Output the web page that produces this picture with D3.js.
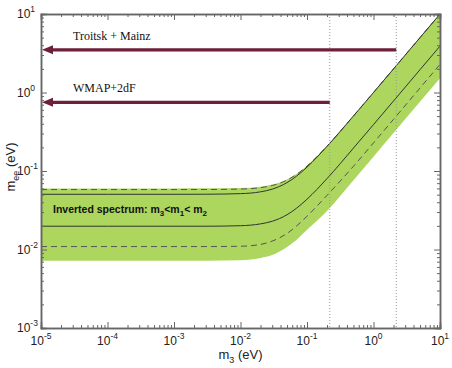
<!DOCTYPE html>
<html>
<head>
<meta charset="utf-8">
<script src="https://cdn.jsdelivr.net/npm/d3@7"></script>
<style>
  body { margin: 0; background: #fff; }
  svg { display: block; font-family: "Liberation Sans", Arial, sans-serif; }
</style>
</head>
<body>
<div id="chart"></div>
<script>
// ━━━━━━━━━━━━━━━━━━━━━━━━━━━━━━━━━━━━━━━━━━━━━━━━━━━━━━━━━━━━━━━━━━━━━━━━━━━━━━
// Data //////////////////////////////////////////////////
// ━━━━━━━━━━━━━━━━━━━━━━━━━━━━━━━━━━━━━━━━━━━━━━━━━━━━━━━━━━━━━━━━━━━━━━━━━━━━━━

const m3 = [1e-5, 1e-4, 1e-3, 3e-3, 0.01, 0.02, 0.03, 0.05, 0.07, 0.1, 0.2, 0.5, 1, 2, 5, 10];

const bandTop    = [0.060, 0.060, 0.060, 0.0601, 0.0608, 0.0632, 0.0671, 0.0781, 0.0922, 0.117, 0.209, 0.504, 1.0, 2.0, 5.0, 10];
const bandBottom = [0.0072, 0.0072, 0.0072, 0.0072, 0.0073, 0.0078, 0.0085, 0.0108, 0.0133, 0.0178, 0.031, 0.076, 0.152, 0.305, 0.76, 1.52];
const solidTop    = [0.0505, 0.0505, 0.0505, 0.0506, 0.0515, 0.0543, 0.0587, 0.0711, 0.0863, 0.112, 0.206, 0.503, 1.0, 2.0, 5.0, 10];
const solidBottom = [0.0198, 0.0198, 0.0198, 0.0198, 0.0201, 0.0212, 0.0229, 0.0277, 0.0337, 0.0437, 0.080, 0.196, 0.39, 0.78, 1.95, 3.9];
const dashTop    = [0.058, 0.058, 0.058, 0.0581, 0.0589, 0.0614, 0.0653, 0.0766, 0.0909, 0.1156, 0.207, 0.503, 1.0, 2.0, 5.0, 10];
const dashBottom = [0.0109, 0.0109, 0.0109, 0.0109, 0.0110, 0.0116, 0.0128, 0.0160, 0.0200, 0.0265, 0.049, 0.115, 0.228, 0.455, 1.14, 2.28];

// experimental bounds: label, m_ee value, m3 where the arrow stops
const boundLabels = ['Troitsk + Mainz', 'WMAP+2dF'];
const boundValues = [3.5, 0.75];
const boundEnds   = [2.2, 0.22];

const xTickExp = [-5, -4, -3, -2, -1, 0, 1];
const yTickExp = [-3, -2, -1, 0, 1];

// ━━━━━━━━━━━━━━━━━━━━━━━━━━━━━━━━━━━━━━━━━━━━━━━━━━━━━━━━━━━━━━━━━━━━━━━━━━━━━━
// Layout & scales //////////////////////////////////////////////////////////////
// ━━━━━━━━━━━━━━━━━━━━━━━━━━━━━━━━━━━━━━━━━━━━━━━━━━━━━━━━━━━━━━━━━━━━━━━━━━━━━━

const width = 452, height = 368;
const margin = {top: 14, right: 12, bottom: 40, left: 41};

const x = d3.scaleLog().domain([1e-5, 10]).range([margin.left, width - margin.right]);
const y = d3.scaleLog().domain([1e-3, 10]).range([height - margin.bottom, margin.top]);

const svg = d3.select('#chart').append('svg')
  .attr('width', width)
  .attr('height', height);

svg.append('defs').append('clipPath').attr('id', 'plot-clip')
  .append('rect')
  .attr('x', x.range()[0]).attr('y', y.range()[1])
  .attr('width', x.range()[1] - x.range()[0])
  .attr('height', y.range()[0] - y.range()[1]);

const plot = svg.append('g').attr('clip-path', 'url(#plot-clip)');

const rows = m3.map((m, i) => ({m, top: bandTop[i], bot: bandBottom[i]}));

// green band
plot.append('path')
  .datum(rows)
  .attr('fill', '#acd65e')
  .attr('d', d3.area()
    .x(d => x(d.m))
    .y0(d => y(d.bot))
    .y1(d => y(d.top))
    .curve(d3.curveMonotoneX));

const line = d3.line()
  .x((d, i) => x(m3[i]))
  .y(d => y(d))
  .curve(d3.curveMonotoneX);

[dashTop, dashBottom].forEach(s => {
  plot.append('path')
    .datum(s)
    .attr('fill', 'none')
    .attr('stroke', '#555')
    .attr('stroke-width', 1)
    .attr('stroke-dasharray', '6,4')
    .attr('d', line);
});

[solidTop, solidBottom].forEach(s => {
  plot.append('path')
    .datum(s)
    .attr('fill', 'none')
    .attr('stroke', '#333')
    .attr('stroke-width', 1)
    .attr('d', line);
});

// dotted verticals at the arrow ends
plot.selectAll('line.vdot')
  .data(boundEnds)
  .join('line')
  .attr('class', 'vdot')
  .attr('x1', d => x(d)).attr('x2', d => x(d))
  .attr('y1', y.range()[1]).attr('y2', y.range()[0])
  .attr('stroke', '#999')
  .attr('stroke-width', 1)
  .attr('stroke-dasharray', '1,2');

// arrows
const arrowColor = '#6d1f3b';
const headLen = 11, headHalf = 4.5;
boundValues.forEach((v, i) => {
  const x0 = x.range()[0] + 1, yy = y(v);
  svg.append('line')
    .attr('x1', x0 + headLen - 2).attr('x2', x(boundEnds[i]))
    .attr('y1', yy).attr('y2', yy)
    .attr('stroke', arrowColor)
    .attr('stroke-width', 3.2);
  svg.append('path')
    .attr('fill', arrowColor)
    .attr('d', `M${x0},${yy}L${x0 + headLen},${yy - headHalf}L${x0 + headLen},${yy + headHalf}Z`);
  svg.append('text')
    .attr('x', x.range()[0] + 32)
    .attr('y', yy - 10)
    .attr('font-family', '"Liberation Serif", "Times New Roman", serif')
    .attr('font-size', 12)
    .attr('fill', '#111')
    .text(boundLabels[i]);
});

// band label
const bandLabel = svg.append('text')
  .attr('x', x.range()[0] + 12)
  .attr('y', 213)
  .attr('font-size', 10.5)
  .attr('font-weight', 'bold')
  .attr('fill', '#111');
bandLabel.append('tspan').text('Inverted spectrum: m');
bandLabel.append('tspan').attr('font-size', 8).attr('dy', 3).text('3');
bandLabel.append('tspan').attr('dy', -3).text('<m');
bandLabel.append('tspan').attr('font-size', 8).attr('dy', 3).text('1');
bandLabel.append('tspan').attr('dy', -3).text('< m');
bandLabel.append('tspan').attr('font-size', 8).attr('dy', 3).text('2');

// ━━━━━━━━━━━━━━━━━━━━━━━━━━━━━━━━━━━━━━━━━━━━━━━━━━━━━━━━━━━━━━━━━━━━━━━━━━━━━━
// Axes (frame with inward ticks on all four sides) /////////////////////////////
// ━━━━━━━━━━━━━━━━━━━━━━━━━━━━━━━━━━━━━━━━━━━━━━━━━━━━━━━━━━━━━━━━━━━━━━━━━━━━━━

function minorTicks(scale) {
  const [a, b] = scale.domain().map(Math.log10);
  const out = [];
  for (let e = a; e < b; e++) for (let k = 2; k <= 9; k++) out.push(k * Math.pow(10, e));
  return out;
}
const axisColor = '#666';

function frameAxis(gen, scale, transform, values, len) {
  const g = svg.append('g')
    .attr('transform', transform)
    .call(gen(scale).tickValues(values).tickSize(len).tickFormat(''));
  g.select('.domain').attr('stroke', axisColor).attr('stroke-width', 1.5);
  g.selectAll('.tick line').attr('stroke', axisColor).attr('stroke-width', 1);
}

const xMajor = xTickExp.map(e => Math.pow(10, e));
const yMajor = yTickExp.map(e => Math.pow(10, e));
const b = y.range()[0], t = y.range()[1], l = x.range()[0], r = x.range()[1];

[[xMajor, 6], [minorTicks(x), 3]].forEach(([vals, len]) => {
  frameAxis(d3.axisBottom, x, `translate(0,${b})`, vals, -len);
  frameAxis(d3.axisTop, x, `translate(0,${t})`, vals, -len);
});
[[yMajor, 6], [minorTicks(y), 3]].forEach(([vals, len]) => {
  frameAxis(d3.axisLeft, y, `translate(${l},0)`, vals, -len);
  frameAxis(d3.axisRight, y, `translate(${r},0)`, vals, -len);
});

// tick labels 10^n
svg.selectAll('text.xlab')
  .data(xTickExp)
  .join('text')
  .attr('class', 'xlab')
  .attr('x', d => x(Math.pow(10, d)))
  .attr('y', b + 17)
  .attr('text-anchor', 'middle')
  .attr('font-size', 12)
  .attr('fill', '#222')
  .each(function(d) {
    const s = d3.select(this);
    s.append('tspan').text('10');
    s.append('tspan').attr('font-size', 8.5).attr('dy', -6).text(d);
  });

svg.selectAll('text.ylab')
  .data(yTickExp)
  .join('text')
  .attr('class', 'ylab')
  .attr('x', 17)
  .attr('y', d => y(Math.pow(10, d)) + 4)
  .attr('font-size', 12)
  .attr('fill', '#222')
  .each(function(d) {
    const s = d3.select(this);
    s.append('tspan').text('10');
    s.append('tspan').attr('font-size', 8.5).attr('dy', -6).text(d);
  });

// axis titles
const xTitle = svg.append('text')
  .attr('x', (l + r) / 2)
  .attr('y', height - 9)
  .attr('text-anchor', 'middle')
  .attr('font-size', 13)
  .attr('fill', '#222');
xTitle.append('tspan').text('m');
xTitle.append('tspan').attr('font-size', 9).attr('dy', 4).text('3');
xTitle.append('tspan').attr('dy', -4).text(' (eV)');

const yTitle = svg.append('text')
  .attr('transform', `translate(15,${(t + b) / 2 - 4}) rotate(-90)`)
  .attr('text-anchor', 'middle')
  .attr('font-size', 13)
  .attr('fill', '#222');
yTitle.append('tspan').text('m');
yTitle.append('tspan').attr('font-size', 9).attr('dy', 4).text('ee');
yTitle.append('tspan').attr('dy', -4).text(' (eV)');
</script>
</body>
</html>
